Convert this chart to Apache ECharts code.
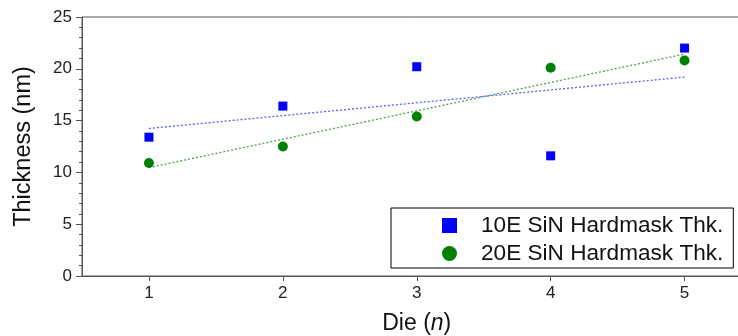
<!DOCTYPE html>
<html>
<head>
<meta charset="utf-8">
<script src="https://cdn.jsdelivr.net/npm/echarts@6/dist/echarts.min.js"></script>
<style>
  html, body { margin: 0; padding: 0; background: #fff; }
  #chart { width: 738px; height: 336px; }
</style>
</head>
<body>
<div id="chart"></div>
<script>
// Die index and measured hardmask thickness (nm)
const dies = [1, 2, 3, 4, 5];
const thk10E = [13.4, 16.4, 20.2, 11.6, 22.0];
const thk20E = [10.9, 12.5, 15.4, 20.1, 20.8];
const seriesNames = ['10E SiN Hardmask Thk.', '20E SiN Hardmask Thk.'];
const yTicks = [0, 5, 10, 15, 20, 25];

// Least-squares line through the measured points, evaluated at the first and last die
function fitLine(xs, ys) {
  const n = xs.length;
  const mx = xs.reduce((a, b) => a + b, 0) / n;
  const my = ys.reduce((a, b) => a + b, 0) / n;
  let sxy = 0, sxx = 0;
  for (let i = 0; i < n; i++) {
    sxy += (xs[i] - mx) * (ys[i] - my);
    sxx += (xs[i] - mx) * (xs[i] - mx);
  }
  const slope = sxy / sxx;
  const x0 = xs[0], x1 = xs[n - 1];
  return [[x0, my + slope * (x0 - mx)], [x1, my + slope * (x1 - mx)]];
}

const pairs = (xs, ys) => xs.map((x, i) => [x, ys[i]]);
const font = 'Liberation Sans, Arial, sans-serif';
const axisColor = '#555';

const chart = echarts.init(document.getElementById('chart'), null, { renderer: 'canvas' });
chart.setOption({
  backgroundColor: '#fff',
  animation: false,
  grid: {
    left: 82, top: 17, bottom: 60, width: 669.5,
    outerBoundsMode: 'none',
    containLabel: false,
    show: true, borderColor: axisColor, borderWidth: 1, backgroundColor: 'transparent'
  },
  xAxis: {
    type: 'value',
    min: 0.5, max: 5.5,
    name: '{a|Die (}{b|n}{a|)}',
    nameLocation: 'middle',
    nameGap: 36,
    nameTextStyle: {
      rich: {
        a: { fontFamily: font, fontSize: 23, color: '#111' },
        b: { fontFamily: font, fontSize: 23, color: '#111', fontStyle: 'italic' }
      }
    },
    axisLine: { show: true, lineStyle: { color: axisColor, width: 1 } },
    axisTick: { show: true, inside: false, length: 5, customValues: dies, lineStyle: { color: axisColor } },
    axisLabel: { customValues: dies, fontFamily: font, fontSize: 17, color: '#222', margin: 9 },
    splitLine: { show: false }
  },
  yAxis: {
    type: 'value',
    min: yTicks[0], max: yTicks[yTicks.length - 1], interval: 5,
    name: 'Thickness (nm)',
    nameLocation: 'middle',
    nameRotate: 90,
    nameGap: 46,
    nameTextStyle: { fontFamily: font, fontSize: 23.5, color: '#111' },
    axisLine: { show: true, lineStyle: { color: axisColor, width: 1 } },
    axisTick: { show: true, length: 6, lineStyle: { color: axisColor } },
    minorTick: { show: true, splitNumber: 5, length: 3, lineStyle: { color: axisColor } },
    axisLabel: { fontFamily: font, fontSize: 17, color: '#222', margin: 10 },
    splitLine: { show: false }
  },
  legend: {
    orient: 'vertical',
    left: 391, top: 208,
    padding: [6, 10, 3, 51],
    itemGap: 5,
    itemWidth: 15, itemHeight: 15,
    borderColor: '#000', borderWidth: 1,
    backgroundColor: '#fff',
    data: seriesNames,
    textStyle: { fontFamily: font, fontSize: 22.6, color: '#111', lineHeight: 22, padding: [0, 0, 0, 19] }
  },
  series: [
    {
      name: 'fit10E', type: 'line', data: fitLine(dies, thk10E),
      showSymbol: false, symbol: 'none', silent: true, z: 1,
      lineStyle: { color: 'rgba(40,40,255,0.75)', width: 1.3, type: [2, 2] }
    },
    {
      name: 'fit20E', type: 'line', data: fitLine(dies, thk20E),
      showSymbol: false, symbol: 'none', silent: true, z: 1,
      lineStyle: { color: 'rgba(20,130,20,0.75)', width: 1.3, type: [2, 2] }
    },
    {
      name: seriesNames[0], type: 'scatter', data: pairs(dies, thk10E),
      symbol: 'rect', symbolSize: 9, z: 3,
      itemStyle: { color: '#0000ff', opacity: 1 }
    },
    {
      name: seriesNames[1], type: 'scatter', data: pairs(dies, thk20E),
      symbol: 'circle', symbolSize: 10, z: 3,
      itemStyle: { color: '#008000', opacity: 1 }
    }
  ]
});
</script>
</body>
</html>
